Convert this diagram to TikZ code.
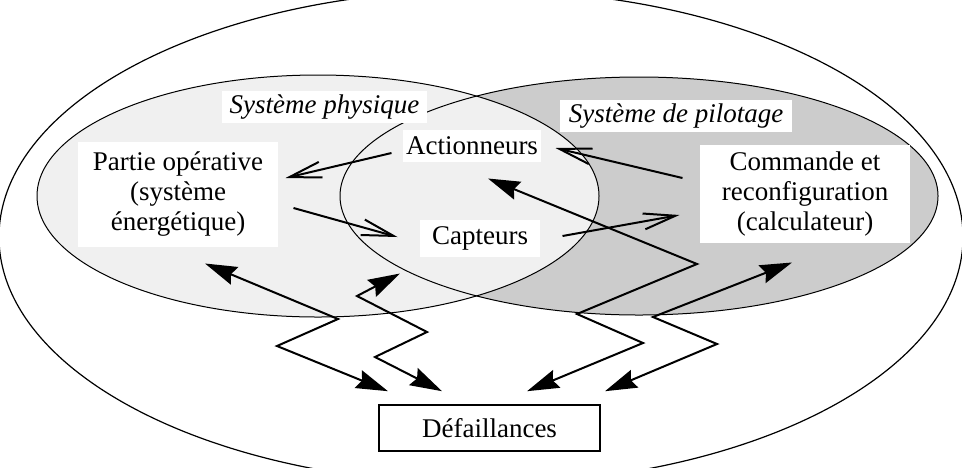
\documentclass[tikz,border=0pt]{standalone}
\usepackage{fontspec}
\setmainfont{Liberation Serif}
\usetikzlibrary{arrows.meta}
\definecolor{cphys}{HTML}{F0F0F0}
\definecolor{cpilot}{HTML}{CCCCCC}
\tikzset{
  every picture/.style={line width=0.5pt},
  txt/.style={fill=white, inner sep=1pt, align=center, font=\fontsize{13.5}{15}\selectfont},
  zonetitle/.style={txt, font=\fontsize{13.5}{15}\selectfont\itshape},
  zone/.style={draw=black, line width=0.5pt},
  flow/.style={-{Straight Barb[length=16pt, width=8pt]}, line width=1pt},
  fault/.style={{Stealth[length=16pt, width=9.5pt, inset=2pt]}-{Stealth[length=16pt, width=9.5pt, inset=2pt]}, line width=1pt},
}

\begin{document}
\begin{tikzpicture}[x=0.5pt, y=-0.5pt]
  \useasboundingbox (0,0) rectangle (962,467);
  \clip (0,0) rectangle (962,467);
  \fill[cpilot] (639,196) ellipse [x radius=299, y radius=119];
  \fill[cphys] (318,196) ellipse [x radius=281, y radius=121];
  \draw[zone] (639,196) ellipse [x radius=299, y radius=119];
  \draw[zone] (318,196) ellipse [x radius=281, y radius=121];
  \draw[zone, line width=0.6pt] (481,237) ellipse [x radius=482, y radius=247];
  \node[zonetitle, minimum width=102.5pt, minimum height=16pt] (phys) at (324.5,107) {Système physique};
  \node[zonetitle, minimum width=116pt, minimum height=16pt] (pilot) at (676,116) {Système de pilotage};
  \node[txt, minimum width=69pt, minimum height=16pt] (act) at (472,146) {Actionneurs};
  \node[txt, minimum width=60pt, minimum height=18.5pt] (capt) at (480,238.5) {Capteurs};
  \node[txt, minimum width=100pt, minimum height=52.5pt] (partie) at (178,194.5) {Partie opérative\\(système\\énergétique)};
  \node[txt, minimum width=105pt, minimum height=49pt] (cmd) at (805,194) {Commande et\\reconfiguration\\(calculateur)};
  \node[txt, draw, line width=0.8pt, minimum width=110.5pt, minimum height=23pt] (def) at (489.5,428) {Défaillances};
  \draw[flow] ([shift={(-11,7)}]act.west) -- ([shift={(7,-16.5)}]partie.east);
  \draw[flow] ([shift={(15,13.5)}]partie.east) -- ([shift={(-22,-1.5)}]capt.west);
  \draw[flow] ([shift={(22,-2.5)}]capt.east) -- ([shift={(-20,21)}]cmd.west);
  \draw[flow] ([shift={(-17,-16)}]cmd.west) -- ([shift={(14,2)}]act.east);
  \draw[fault] ([shift={(27,16)}]partie.south) -- (338,319) -- (277,346) -- ([shift={(-101.5,-13)}]def.north);
  \draw[fault] ([shift={(-80,16)}]capt.south) -- (357,296) -- (427,332) -- (375,357) -- ([shift={(-47.5,-13)}]def.north);
  \draw[fault] ([shift={(16,16)}]act.south) -- (697,264) -- (577,314) -- (643,343) -- ([shift={(37.5,-13)}]def.north);
  \draw[fault] ([shift={(-13,19)}]cmd.south) -- (653,317) -- (717,344) -- ([shift={(115.5,-13)}]def.north);
\end{tikzpicture}
\end{document}
